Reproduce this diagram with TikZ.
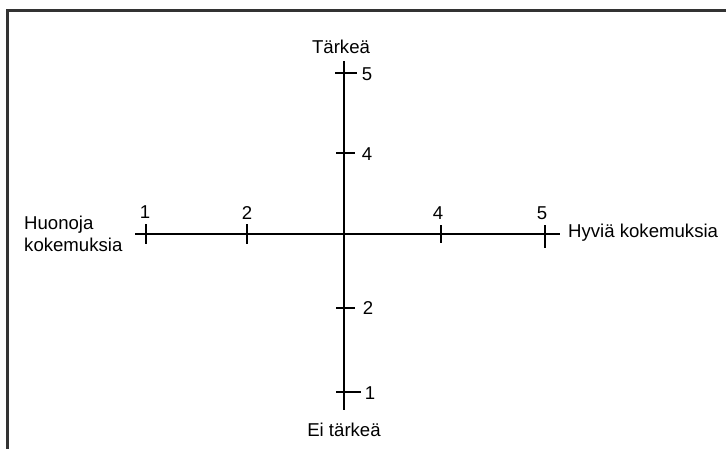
\documentclass[tikz,border=0pt]{standalone}
\usepackage{fontspec}
\setmainfont{Liberation Sans}
\begin{document}
\begin{tikzpicture}[x=1pt, y=-1pt, font=\fontsize{18.6}{22}\selectfont,
  axisline/.style={line width=1.3pt},
  tick/.style={line width=1.3pt},
  num/.style={inner sep=0pt}]
  \useasboundingbox (0,0) rectangle (726,448);
  \draw[line width=2.2pt, black!80] (7.5,10.5) rectangle (760,470);
  % axes
  \coordinate (top) at (344,61);
  \coordinate (bot) at (344,410);
  \coordinate (west) at (135,234);
  \coordinate (east) at (560,234);
  \draw[axisline] (top) -- (bot);
  \draw[axisline] (west) -- (east);
  % ticks
  \draw[tick] (335,73) -- (357,73);
  \draw[tick] (336,153) -- (355,153);
  \draw[tick] (336,308) -- (355,308);
  \draw[tick] (336,392) -- (361,392);
  \draw[tick] (146,224) -- (146,244);
  \draw[tick] (247,224) -- (247,244);
  \draw[tick] (441,225) -- (441,243);
  \draw[tick] (545,225) -- (545,248);
  % numbers
  \node[num] (v5) at (367,74) {5};
  \node[num] (v4) at (367,154) {4};
  \node[num] (v2) at (368,308) {2};
  \node[num] (v1) at (370,393) {1};
  \node[num] (h1) at (145,212) {1};
  \node[num] (h2) at (247,213) {2};
  \node[num] (h4) at (438,213) {4};
  \node[num] (h5) at (542,213) {5};
  % labels
  \node[num] (tarkea) at (341,47) {Tärkeä};
  \node[num] (eitarkea) at (344,430) {Ei tärkeä};
  \node[num, anchor=west] (hyvia) at (568,233) {Hyviä kokemuksia};
  \node[num, anchor=west, align=left] (huonoja) at (24,234) {Huonoja\\kokemuksia};
\end{tikzpicture}
\end{document}
